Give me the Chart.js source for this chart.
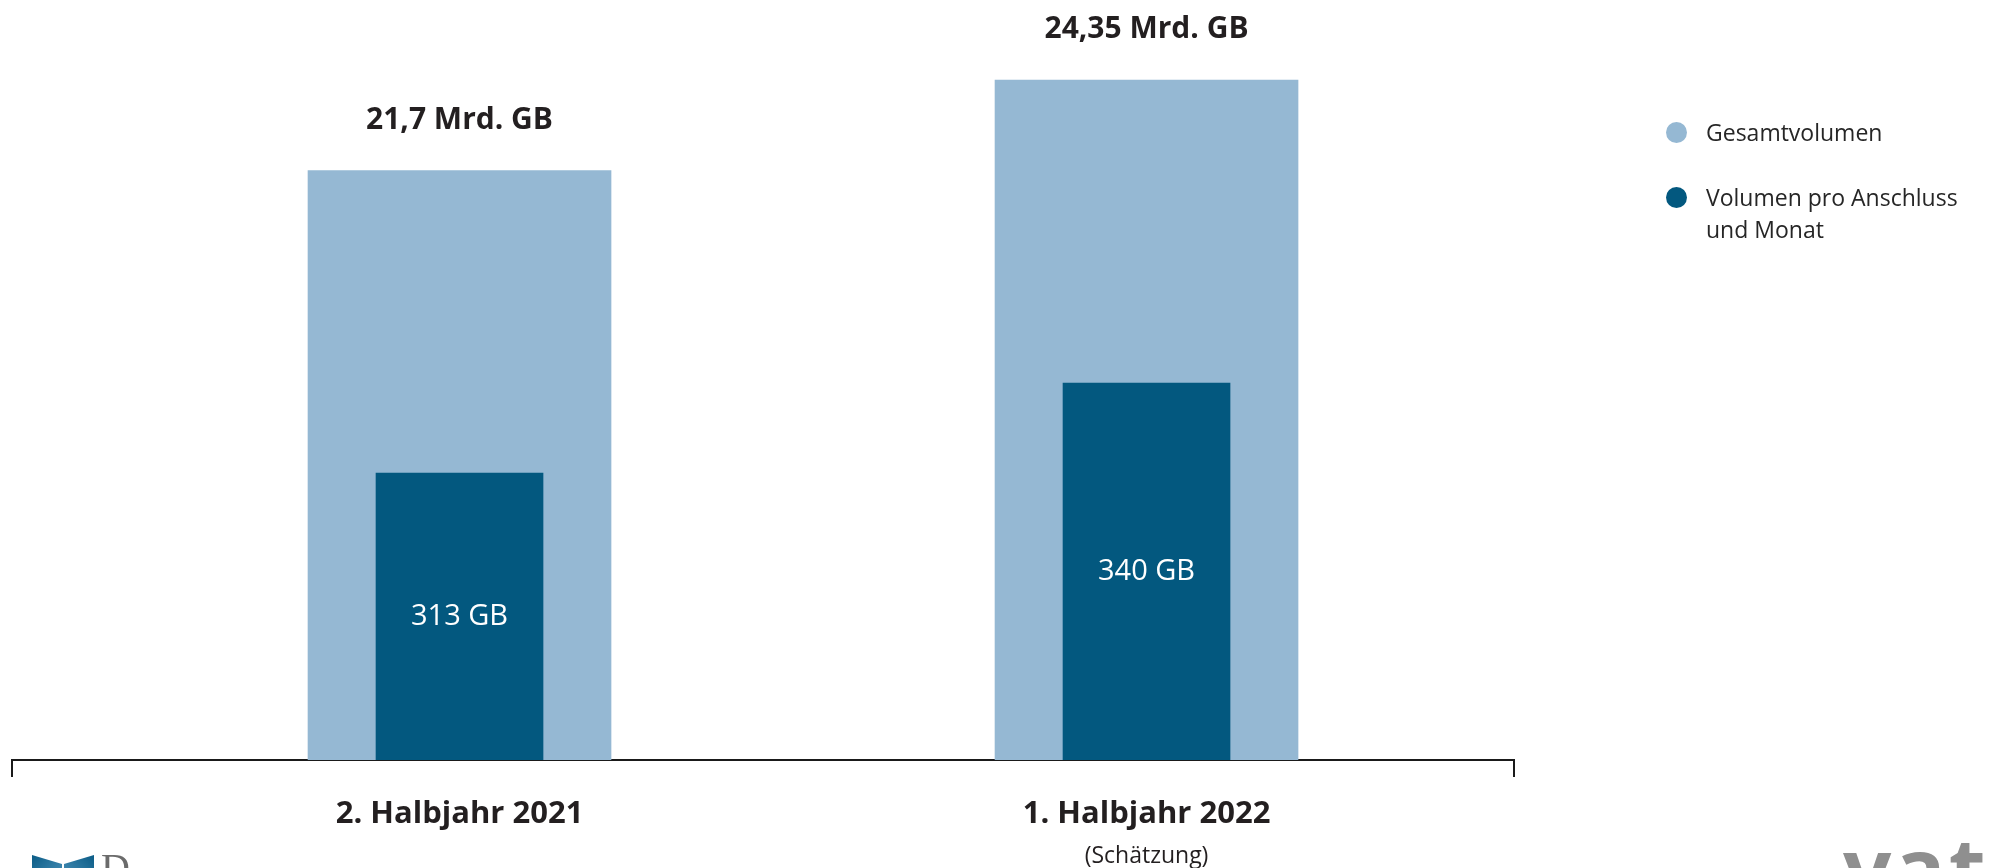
<!DOCTYPE html>
<html>
<head>
<meta charset="utf-8">
<script src="https://cdn.jsdelivr.net/npm/chart.js@4.4.1/dist/chart.umd.min.js"></script>
<style>
  html, body { margin: 0; padding: 0; background: #ffffff; overflow: hidden; }
  #wrap { position: relative; width: 1995px; height: 868px; overflow: hidden; font-family: "Open Sans", sans-serif; }
  #c { position: absolute; left: 0; top: 0; }
  #legend { position: absolute; left: 1666px; top: 116px; color: #262626; font-size: 23px; line-height: 32px; }
  .item { display: flex; align-items: flex-start; margin-bottom: 33px; }
  .dot { width: 21px; height: 21px; border-radius: 50%; margin-top: 5.5px; margin-right: 19px; flex: none; }
  #logoL { position: absolute; left: 32px; top: 855px; width: 62px; height: 30px; }
  #logoL .w1 { position: absolute; left: 0; top: 0; width: 30px; height: 30px; background: linear-gradient(135deg, #0b5c86, #4f95bd); clip-path: polygon(0 0, 100% 30%, 100% 100%, 0 100%); }
  #logoL .w2 { position: absolute; left: 32px; top: 0; width: 30px; height: 30px; background: linear-gradient(225deg, #0b5c86, #4f95bd); clip-path: polygon(0 30%, 100% 0, 100% 100%, 0 100%); }
  #logoD { position: absolute; left: 101px; top: 848px; font-family: "Liberation Serif", serif; font-size: 40px; line-height: 40px; color: #6b6b6b; }
  #logoR { position: absolute; left: 1843px; top: 824px; font-family: "Open Sans", sans-serif; font-weight: bold; font-size: 85px; line-height: 85px; letter-spacing: 3px; color: #8f8f8f; }
</style>
</head>
<body>
<div id="wrap">
  <canvas id="c" width="1995" height="868"></canvas>
  <div id="legend"></div>
  <div id="logoL"><div class="w1"></div><div class="w2"></div></div>
  <div id="logoD">D</div>
  <div id="logoR">vatm</div>
</div>
<script>
// ---- data ----
const categories = ['2. Halbjahr 2021', '1. Halbjahr 2022'];
const categoryNotes = ['', '(Schätzung)'];
const seriesNames = ['Gesamtvolumen', 'Volumen pro Anschluss und Monat'];
const seriesLegendLines = [['Gesamtvolumen'], ['Volumen pro Anschluss', 'und Monat']];
const totalVolume = [21.7, 24.35];      // Mrd. GB
const perConnection = [313, 340];       // GB
const totalUnit = 'Mrd. GB';
const perUnit = 'GB';
const seriesColors = ['#95b8d3', '#03587f'];

// ---- scale ranges (axes hidden) ----
const X_MIN = -0.6514, X_MAX = 1.5349;

const fmt = v => String(v).replace('.', ',');

Chart.defaults.font.family = '"Open Sans", sans-serif';
Chart.defaults.color = '#231f20';

const barLabels = {
  id: 'barLabels',
  afterDatasetsDraw(chart) {
    const ctx = chart.ctx;
    ctx.save();
    ctx.textAlign = 'center';
    chart.getDatasetMeta(0).data.forEach((bar, i) => {
      ctx.font = 'bold 30px "Open Sans"';
      ctx.fillStyle = '#231f20';
      ctx.textBaseline = 'alphabetic';
      ctx.fillText(fmt(totalVolume[i]) + ' ' + totalUnit, bar.x, bar.y - 42);
    });
    const yPer = chart.scales.yPer;
    const basePx = yPer.getPixelForValue(yPer.min);
    perConnection.forEach((v, i) => {
      const bar = chart.getDatasetMeta(1).data[i];
      const topPx = yPer.getPixelForValue(v);
      const x = bar ? bar.x : chart.scales.x.getPixelForValue(i);
      ctx.font = '29px "Open Sans"';
      ctx.fillStyle = '#ffffff';
      ctx.textBaseline = 'middle';
      ctx.fillText(v + ' ' + perUnit, x, (topPx + basePx) / 2);
    });
    ctx.restore();
  }
};

const setTicks = s => { s.ticks = [X_MIN, 0, 1, X_MAX].map(v => ({ value: v })); };

new Chart(document.getElementById('c'), {
  type: 'bar',
  data: {
    datasets: [
      {
        label: seriesNames[0],
        data: categories.map((c, i) => ({ x: i, y: totalVolume[i] })),
        yAxisID: 'yTotal',
        xAxisID: 'x',
        backgroundColor: seriesColors[0],
        barThickness: 303,
        grouped: false,
        order: 1
      },
      {
        label: seriesNames[1],
        data: categories.map((c, i) => ({ x: i, y: perConnection[i] })),
        yAxisID: 'yPer',
        xAxisID: 'x',
        backgroundColor: seriesColors[1],
        barThickness: 167,
        grouped: false,
        order: 0
      }
    ]
  },
  options: {
    responsive: false,
    animation: false,
    layout: { padding: { left: 12, right: 481, top: 20, bottom: 0 } },
    plugins: { legend: { display: false }, tooltip: { enabled: false } },
    scales: {
      x: {
        type: 'linear', position: 'bottom', min: X_MIN, max: X_MAX, offset: false, weight: 0, z: 1,
        border: { display: true, color: '#1a1a1a', width: 2 },
        grid: {
          display: true, offset: false, drawOnChartArea: false, drawTicks: true, tickLength: 17, lineWidth: 2,
          color: ctx => (ctx.tick && (ctx.tick.value === X_MIN || ctx.tick.value === X_MAX)) ? '#1a1a1a' : 'rgba(0,0,0,0)'
        },
        afterBuildTicks: setTicks,
        ticks: {
          autoSkip: false, maxRotation: 0, minRotation: 0, padding: 12, color: '#231f20',
          font: { size: 31, weight: 'bold', lineHeight: 1.65 },
          callback: v => (Number.isInteger(v) && categories[v] !== undefined) ? categories[v] : ''
        },
        afterFit: s => { s.height = 72; }
      },
      x2: {
        type: 'linear', position: 'bottom', min: X_MIN, max: X_MAX, offset: false, weight: 1,
        border: { display: false },
        grid: { display: false, drawTicks: false, offset: false },
        afterBuildTicks: setTicks,
        ticks: {
          autoSkip: false, maxRotation: 0, minRotation: 0, padding: 11, color: '#231f20',
          font: { size: 23 },
          callback: v => (Number.isInteger(v) && categoryNotes[v] !== undefined) ? categoryNotes[v] : ''
        },
        afterFit: s => { s.height = 36; }
      },
      yTotal: { display: false, position: 'left', min: 4.44, max: 26.11, beginAtZero: false },
      yPer: { display: false, position: 'right', min: 226.9, max: 448.9, beginAtZero: false }
    }
  },
  plugins: [barLabels]
});

// legend built from series names / colours
const legend = document.getElementById('legend');
seriesLegendLines.forEach((lines, i) => {
  const item = document.createElement('div');
  item.className = 'item';
  const dot = document.createElement('span');
  dot.className = 'dot';
  dot.style.background = seriesColors[i];
  const txt = document.createElement('span');
  txt.innerHTML = lines.join('<br>');
  item.appendChild(dot);
  item.appendChild(txt);
  legend.appendChild(item);
});
</script>
</body>
</html>
